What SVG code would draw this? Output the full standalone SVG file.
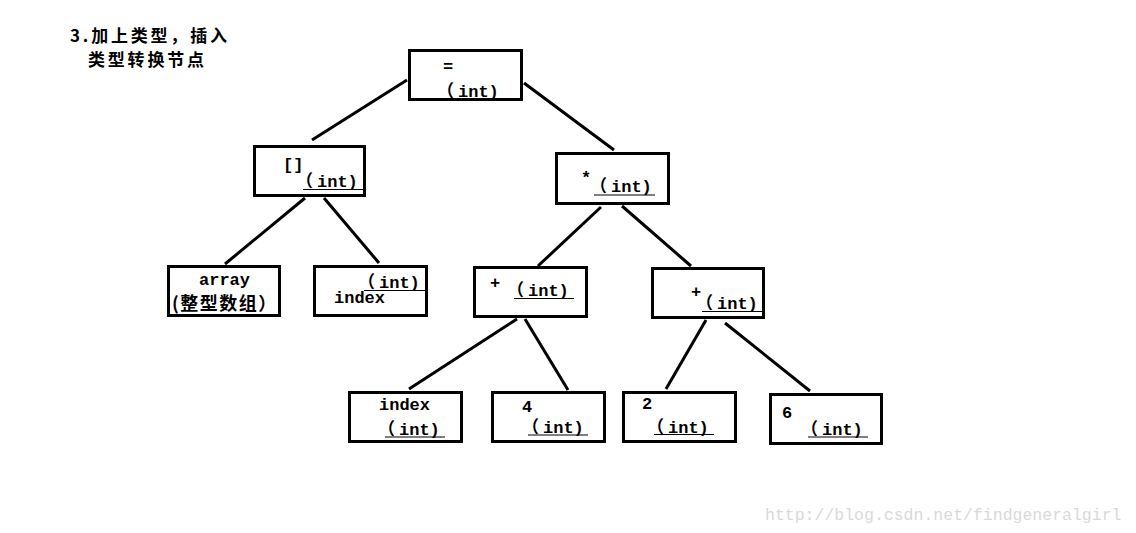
<svg xmlns="http://www.w3.org/2000/svg" width="1136" height="533" viewBox="0 0 1136 533">
<style>
.box{fill:none;stroke:#000;stroke-width:3}
.t{font-family:"Liberation Mono","Noto Sans CJK SC",monospace;font-size:17px;font-weight:bold;fill:#000}
.cjk{font-family:"Noto Sans CJK SC","Liberation Mono",sans-serif;font-weight:bold;fill:#000}
.ul{stroke:#000;stroke-width:1.2}
.c{stroke:#000;stroke-width:3;fill:none}
</style>
<rect width="1136" height="533" fill="#fff"/>
<g id="title">
<text class="cjk" x="70" y="42" font-size="17" letter-spacing="2.8">3.加上类型，插入</text>
<text class="cjk" x="88" y="66" font-size="17" letter-spacing="2.8">类型转换节点</text>
</g>
<g id="connectors">
<line class="c" x1="407" y1="80" x2="312" y2="140"/>
<line class="c" x1="524" y1="83" x2="614" y2="150"/>
<line class="c" x1="305" y1="198" x2="225" y2="264"/>
<line class="c" x1="324" y1="198" x2="379" y2="263"/>
<line class="c" x1="601" y1="207" x2="538" y2="266"/>
<line class="c" x1="622" y1="206" x2="691" y2="266"/>
<line class="c" x1="517" y1="319" x2="409" y2="389"/>
<line class="c" x1="525" y1="319" x2="568" y2="390"/>
<line class="c" x1="706" y1="320" x2="666" y2="389"/>
<line class="c" x1="725" y1="323" x2="810" y2="391"/>
</g>
<g id="n-assign">
<rect class="box" x="409.5" y="50.5" width="112" height="49"/>
<text class="t" x="443" y="72">=</text>
<text class="t" x="437" y="97">（<tspan dx="4">int)</tspan></text>
</g>
<g id="n-index-op">
<rect class="box" x="254.5" y="146.5" width="110" height="49"/>
<text class="t" x="283" y="170">[]</text>
<text class="t" x="296" y="187">（<tspan dx="4">int)</tspan></text>
<line class="ul" x1="303" y1="189.5" x2="363" y2="189.5"/>
</g>
<g id="n-mul">
<rect class="box" x="556.5" y="153.5" width="112" height="50"/>
<text class="t" x="581" y="183">*</text>
<text class="t" x="590" y="192">（<tspan dx="4">int)</tspan></text>
<line class="ul" x1="594" y1="195" x2="655" y2="195"/>
</g>
<g id="n-array">
<rect class="box" x="168.5" y="266.5" width="111" height="49"/>
<text class="t" x="199" y="285">array</text>
<text class="cjk" x="172" y="310" font-size="18" letter-spacing="1.5">(整型数组）</text>
</g>
<g id="n-index1">
<rect class="box" x="314.5" y="266.5" width="112" height="49"/>
<text class="t" x="358" y="288">（<tspan dx="4">int)</tspan></text>
<line class="ul" x1="364" y1="290.5" x2="425" y2="290.5"/>
<text class="t" x="334" y="303">index</text>
</g>
<g id="n-plus-left">
<rect class="box" x="474.5" y="267.5" width="112" height="49"/>
<text class="t" x="490" y="288">+</text>
<text class="t" x="507" y="296">（<tspan dx="4">int)</tspan></text>
<line class="ul" x1="514" y1="298.5" x2="574" y2="298.5"/>
</g>
<g id="n-plus-right">
<rect class="box" x="652.5" y="268.5" width="111" height="49"/>
<text class="t" x="691" y="297">+</text>
<text class="t" x="696" y="309">（<tspan dx="4">int)</tspan></text>
<line class="ul" x1="702" y1="311.5" x2="762" y2="311.5"/>
</g>
<g id="n-index2">
<rect class="box" x="349.5" y="392.5" width="112" height="49"/>
<text class="t" x="379" y="410">index</text>
<text class="t" x="378" y="435">（<tspan dx="4">int)</tspan></text>
<line class="ul" x1="385" y1="437" x2="445" y2="437"/>
</g>
<g id="n-four">
<rect class="box" x="492.5" y="392.5" width="112" height="49"/>
<text class="t" x="522" y="412">4</text>
<text class="t" x="522" y="433">（<tspan dx="4">int)</tspan></text>
<line class="ul" x1="528" y1="435" x2="588" y2="435"/>
</g>
<g id="n-two">
<rect class="box" x="623.5" y="392.5" width="112" height="49"/>
<text class="t" x="642" y="409">2</text>
<text class="t" x="647" y="433">（<tspan dx="4">int)</tspan></text>
<line class="ul" x1="654" y1="434.5" x2="714" y2="434.5"/>
</g>
<g id="n-six">
<rect class="box" x="770.5" y="394.5" width="111" height="49"/>
<text class="t" x="782" y="418">6</text>
<text class="t" x="801" y="435">（<tspan dx="4">int)</tspan></text>
<line class="ul" x1="808" y1="437" x2="868" y2="437"/>
</g>
<text x="765" y="520" font-family="Liberation Mono, monospace" font-size="16.5" fill="#d9d9d9">http://blog.csdn.net/findgeneralgirl</text>
</svg>
